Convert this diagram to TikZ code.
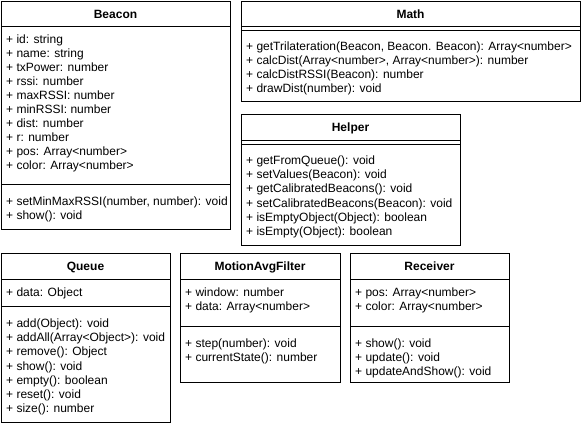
\documentclass[tikz,border=0pt]{standalone}
\usepackage{fontspec}
\setmainfont{Liberation Sans}
\tikzset{
  umlbox/.style={draw, line width=1pt, anchor=north west, inner sep=0pt, outer sep=0pt},
  ttl/.style={font=\bfseries\fontsize{12}{14}\selectfont, inner sep=0pt, anchor=base},
  txt/.style={font=\fontsize{12}{14}\selectfont, inner sep=0pt, anchor=base west},
  sepline/.style={line width=1pt},
}
\begin{document}
\begin{tikzpicture}[x=1pt, y=-1pt]
\useasboundingbox (0,0) rectangle (581,426);
\fill[white] (0,0) rectangle (581,426);

% ---------------- Beacon ----------------
\node[umlbox, minimum width=229pt, minimum height=228pt] (beacon) at (1,1) {};
\draw[sepline] (beacon.west |- 0,26) -- (beacon.east |- 0,26);
\draw[sepline] (beacon.west |- 0,184) -- (beacon.east |- 0,184);
\node[ttl] (beacon-t) at (115.5,18) {Beacon};
\foreach \t [count=\i from 0] in {{+ id: string},{+ name: string},{+ txPower: number},{+ rssi: number},{+ maxRSSI: number},{+ minRSSI: number},{+ dist: number},{+ r: number},{+ pos: Array<number>},{+ color: Array<number>}}
  \node[txt] (beacon-a\i) at (6, 43.5+14*\i) {\t};
\foreach \t [count=\i from 0] in {{+ setMinMaxRSSI(number, number): void},{+ show(): void}}
  \node[txt] (beacon-m\i) at (6, 205.5+14*\i) {\t};

% ---------------- Math ----------------
\node[umlbox, minimum width=339pt, minimum height=100pt] (math) at (241,1) {};
\draw[sepline] (math.west |- 0,26) -- (math.east |- 0,26);
\draw[sepline] (math.west |- 0,30) -- (math.east |- 0,30);
\node[ttl] (math-t) at (410.5,18) {Math};
\foreach \t [count=\i from 0] in {{+ getTrilateration(Beacon, Beacon. Beacon): Array<number>},{+ calcDist(Array<number>, Array<number>): number},{+ calcDistRSSI(Beacon): number},{+ drawDist(number): void}}
  \node[txt] (math-m\i) at (246, 50.5+14.1*\i) {\t};

% ---------------- Helper ----------------
\node[umlbox, minimum width=219pt, minimum height=131pt] (helper) at (241,114) {};
\draw[sepline] (helper.west |- 0,140) -- (helper.east |- 0,140);
\draw[sepline] (helper.west |- 0,144) -- (helper.east |- 0,144);
\node[ttl] (helper-t) at (350.5,131.5) {Helper};
\foreach \t [count=\i from 0] in {{+ getFromQueue(): void},{+ setValues(Beacon): void},{+ getCalibratedBeacons(): void},{+ setCalibratedBeacons(Beacon): void},{+ isEmptyObject(Object): boolean},{+ isEmpty(Object): boolean}}
  \node[txt] (helper-m\i) at (246, 164.5+14.2*\i) {\t};

% ---------------- Queue ----------------
\node[umlbox, minimum width=169pt, minimum height=169pt] (queue) at (1,253) {};
\draw[sepline] (queue.west |- 0,279) -- (queue.east |- 0,279);
\draw[sepline] (queue.west |- 0,306) -- (queue.east |- 0,306);
\node[ttl] (queue-t) at (85.5,270.5) {Queue};
\node[txt] (queue-a0) at (6,296.5) {+ data: Object};
\foreach \t [count=\i from 0] in {{+ add(Object): void},{+ addAll(Array<Object>): void},{+ remove(): Object},{+ show(): void},{+ empty(): boolean},{+ reset(): void},{+ size(): number}}
  \node[txt] (queue-m\i) at (6, 327.5+14.2*\i) {\t};

% ---------------- MotionAvgFilter ----------------
\node[umlbox, minimum width=160pt, minimum height=129pt] (maf) at (180,253) {};
\draw[sepline] (maf.west |- 0,279) -- (maf.east |- 0,279);
\draw[sepline] (maf.west |- 0,326) -- (maf.east |- 0,326);
\node[ttl] (maf-t) at (260,270.5) {MotionAvgFilter};
\foreach \t [count=\i from 0] in {{+ window: number},{+ data: Array<number>}}
  \node[txt] (maf-a\i) at (185, 296.5+14*\i) {\t};
\foreach \t [count=\i from 0] in {{+ step(number): void},{+ currentState(): number}}
  \node[txt] (maf-m\i) at (185, 347.5+14*\i) {\t};

% ---------------- Receiver ----------------
\node[umlbox, minimum width=159pt, minimum height=129pt] (receiver) at (350,253) {};
\draw[sepline] (receiver.west |- 0,279) -- (receiver.east |- 0,279);
\draw[sepline] (receiver.west |- 0,326) -- (receiver.east |- 0,326);
\node[ttl] (receiver-t) at (429.5,270.5) {Receiver};
\foreach \t [count=\i from 0] in {{+ pos: Array<number>},{+ color: Array<number>}}
  \node[txt] (receiver-a\i) at (355, 296.5+14*\i) {\t};
\foreach \t [count=\i from 0] in {{+ show(): void},{+ update(): void},{+ updateAndShow(): void}}
  \node[txt] (receiver-m\i) at (355, 347.5+14*\i) {\t};
\end{tikzpicture}
\end{document}
